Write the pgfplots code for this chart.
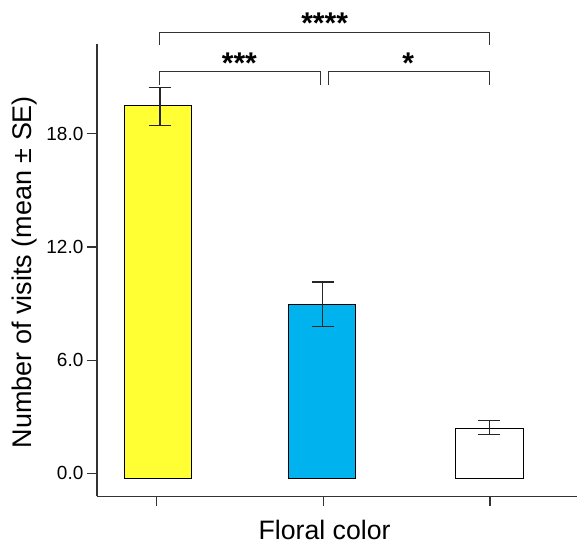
\documentclass[border=0pt]{standalone}
\usepackage{fontspec}
\setmainfont{Liberation Sans}
\usepackage{pgfplots}
\pgfplotsset{compat=1.18}
\definecolor{barYellow}{HTML}{FFFF33}
\definecolor{barBlue}{HTML}{00B2EE}
\definecolor{axgray}{HTML}{333333}

\begin{document}
\begin{tikzpicture}
\begin{axis}[
    scale only axis, width=481pt, height=453pt,
    xmin=0.6425, xmax=3.523, ymin=-1.22, ymax=22.76,
    axis lines=left,
    axis line style={-, line width=1.3pt, axgray},
    tick align=outside, major tick length=10pt,
    tick style={line width=1.3pt, axgray},
    xtick={1,2,3}, xticklabel=\empty,
    ytick={0,6,12,18},
    /pgf/number format/assume math mode=true,
    yticklabel style={/pgf/number format/.cd, fixed, fixed zerofill, precision=1,
        /tikz/.cd, font=\fontsize{19}{22}\selectfont},
    xlabel={Floral color},
    xlabel style={at={(axis description cs:0.474,-0.075)}, anchor=center,
        font=\fontsize{26.7}{30}\selectfont},
    ylabel={Number of visits (mean ± SE)},
    ylabel style={at={(axis description cs:-0.15,0.496)}, anchor=center,
        font=\fontsize{27}{30}\selectfont},
    clip=false,
]
% page frame: same margins round the axis as in the original
\path (axis description cs:-0.20166,-0.10817) rectangle (axis description cs:1,1.09713);

% bars (drawn from just below zero, as in the original)
\addplot[fill=barYellow, draw=black, line width=1.2pt] coordinates {(0.809,-0.25) (0.809,19.48) (1.211,19.48) (1.211,-0.25)} -- cycle;
\addplot[fill=barBlue, draw=black, line width=1.2pt] coordinates {(1.792,-0.25) (1.792,8.95) (2.195,8.95) (2.195,-0.25)} -- cycle;
\addplot[fill=white, draw=black, line width=1.2pt] coordinates {(2.792,-0.25) (2.792,2.40) (3.198,2.40) (3.198,-0.25)} -- cycle;

% SE error bars
\addplot[draw=none, mark=none,
    error bars/.cd, y dir=both, y explicit, error mark=|,
    error bar style={draw=black!85, line width=1.3pt},
    error mark options={draw=black!85, line width=1.3pt, mark size=11pt}]
    coordinates {
    (1.02,19.45) +- (0,1.00)
    (1.996,8.96) +- (0,1.18)
    (2.996,2.43) +- (0,0.38)
};

% significance brackets
\draw[line width=1.2pt, axgray] (axis cs:1.02,22.71) |- (axis cs:2.996,23.38) -- (axis cs:2.996,22.71);
\draw[line width=1.2pt, axgray] (axis cs:1.02,20.61) |- (axis cs:1.982,21.32) -- (axis cs:1.982,20.61);
\draw[line width=1.2pt, axgray] (axis cs:2.03,20.61) |- (axis cs:2.996,21.32) -- (axis cs:2.996,20.61);
\node[font=\fontsize{30}{30}\selectfont\bfseries, anchor=base] at (axis cs:2.008,23.32) {****};
\node[font=\fontsize{30}{30}\selectfont\bfseries, anchor=base] at (axis cs:1.497,21.19) {***};
\node[font=\fontsize{30}{30}\selectfont\bfseries, anchor=base] at (axis cs:2.509,21.19) {*};
\end{axis}
\end{tikzpicture}
\end{document}
